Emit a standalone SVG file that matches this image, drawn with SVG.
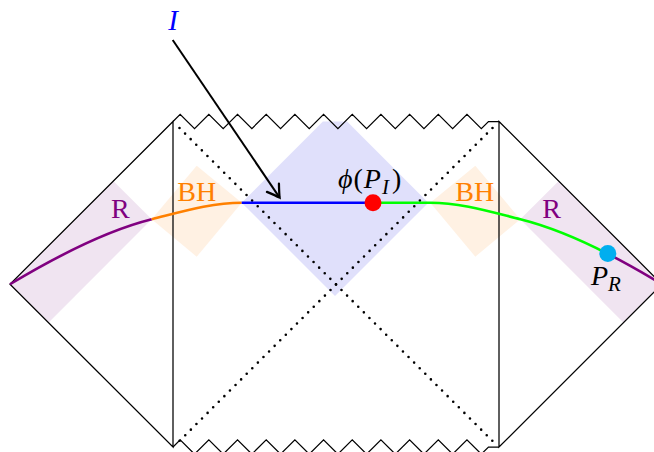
<svg xmlns="http://www.w3.org/2000/svg" width="654" height="452" viewBox="0 0 654 452">
<style>
.outline{fill:none;stroke:#000;stroke-width:1.25;stroke-linejoin:miter}
.dots{fill:none;stroke:#000;stroke-width:2.6;stroke-linecap:round;stroke-dasharray:0 7.9}
.curve{fill:none;stroke-width:2.6;stroke-linecap:butt}
.lbl{font-family:"Liberation Serif","DejaVu Serif",serif;font-size:28px}
.math{font-family:"Liberation Serif","DejaVu Serif",serif;font-size:29px;font-style:italic}
</style>
<defs>
<marker id="arr" markerUnits="userSpaceOnUse" markerWidth="20" markerHeight="20" viewBox="-12 -8 16 16" refX="0" refY="0" orient="auto" overflow="visible">
<path d="M-9.5,-5.8 Q-3,-1.6 0,0 Q-3,1.6 -9.5,5.8" fill="none" stroke="#000" stroke-width="1.8" stroke-linecap="round"/>
</marker>
</defs>
<g id="regions">
<polygon id="R-left" points="10,284.25 113.3,180.95 151.7,219.3 48.4,322.65" fill="#f0e4f1"/>
<polygon id="R-right" points="662,284.25 558.7,180.95 520.3,219.3 623.6,322.65" fill="#f0e4f1"/>
<polygon id="BH-left" points="151.7,219.3 196.7,165.7 241.7,202.7 196.7,256.7" fill="#fff1e3"/>
<polygon id="BH-right" points="520.3,219.3 475.3,165.7 430.3,202.7 475.3,256.7" fill="#fff1e3"/>
<polygon id="island" points="241.7,202.7 322.9,121.5 347.1,121.5 428.3,202.7 335,296" fill="#e0e0fb"/>
</g>
<g id="horizons">
<path class="dots" d="M179.5,128 L492.5,441"/>
<path class="dots" d="M492.5,128 L179.5,441"/>
</g>
<g id="penrose">
<path class="outline" d="M173,121.5 L10,284.25 L173,447 Z"/>
<path class="outline" d="M499,121.5 L662,284.25 L499,447 Z"/>
<path class="outline" d="M173,121.5 L180.17,114.4 L194.51,128.6 L208.85,114.4 L223.19,128.6 L237.53,114.4 L251.87,128.6 L266.21,114.4 L280.55,128.6 L294.89,114.4 L309.23,128.6 L323.57,114.4 L337.91,128.6 L352.25,114.4 L366.59,128.6 L380.93,114.4 L395.27,128.6 L409.61,114.4 L423.95,128.6 L438.29,114.4 L452.63,128.6 L466.97,114.4 L481.31,128.6 L488.48,121.5 L499,121.5"/>
<path class="outline" d="M173,447 L180.17,439.9 L194.51,454.1 L208.85,439.9 L223.19,454.1 L237.53,439.9 L251.87,454.1 L266.21,439.9 L280.55,454.1 L294.89,439.9 L309.23,454.1 L323.57,439.9 L337.91,454.1 L352.25,439.9 L366.59,454.1 L380.93,439.9 L395.27,454.1 L409.61,439.9 L423.95,454.1 L438.29,439.9 L452.63,454.1 L466.97,439.9 L481.31,454.1 L488.48,447 L499,447"/>
</g>
<g id="connectors">
<path class="curve" stroke="#800080" d="M10,284.25 C60,254.25 106.7,230.55 151.7,219.3"/>
<path class="curve" stroke="#ff8000" d="M151.7,219.3 C181.7,211.8 211.7,202.7 241.7,202.7"/>
<path class="curve" stroke="#0000ff" d="M241.7,202.7 H373"/>
<path class="curve" stroke="#00ff00" d="M373,202.7 H430.3 C460.3,202.7 490.3,211.8 520.3,219.3 C548.65,226.39 577.7,238.41 607.81,253.86"/>
<path class="curve" stroke="#800080" d="M662,284.25 C643.5,273.15 625.57,262.91 607.81,253.86"/>
<path fill="none" stroke="#000" stroke-width="2" d="M172.7,40 L279.6,197.6" marker-end="url(#arr)"/>
</g>
<g id="label-I"><text class="math" x="173" y="30" text-anchor="middle" fill="#0000ff">I</text></g>
<g id="label-R-left"><text class="lbl" x="120.3" y="218.3" text-anchor="middle" fill="#800080">R</text></g>
<g id="label-R-right"><text class="lbl" x="551.7" y="218.3" text-anchor="middle" fill="#800080">R</text></g>
<g id="label-BH-left"><text class="lbl" x="196.7" y="200.7" text-anchor="middle" fill="#ff8000">BH</text></g>
<g id="label-BH-right"><text class="lbl" x="474.7" y="200.7" text-anchor="middle" fill="#ff8000">BH</text></g>
<g id="point-PI">
<circle cx="373" cy="202.7" r="8.5" fill="#ff0000"/>
<text class="lbl" x="338" y="188" font-size="30" fill="#000"><tspan font-style="italic">ϕ</tspan><tspan dx="1">(</tspan><tspan font-style="italic" dx="1">P</tspan><tspan font-style="italic" font-size="21" dy="6" dx="1">I</tspan><tspan dy="-6" dx="3">)</tspan></text>
</g>
<g id="point-PR">
<circle cx="607.8" cy="253.6" r="8.5" fill="#00aeef"/>
<text class="lbl" x="591" y="284.5" font-size="29" fill="#000"><tspan font-style="italic">P</tspan><tspan font-style="italic" font-size="21" dy="6.5">R</tspan></text>
</g>
</svg>
